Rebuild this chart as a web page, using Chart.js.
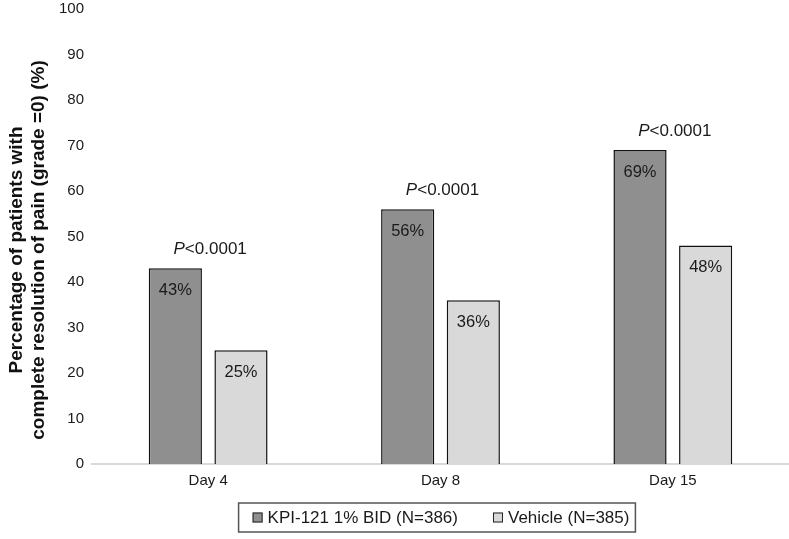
<!DOCTYPE html>
<html>
<head>
<meta charset="utf-8">
<script src="https://cdn.jsdelivr.net/npm/chart.js@4"></script>
<style>
  html, body { margin: 0; padding: 0; background: #fff; }
  #wrap { width: 789px; height: 539px; }
</style>
</head>
<body>
<div id="wrap"><canvas id="myBarChart" width="789" height="539"></canvas></div>
<script>
// データ
const days = ['Day 4', 'Day 8', 'Day 15'];
const kpiValues = [43, 56, 69];
const vehicleValues = [25, 36, 48];
const pLabels = ['P<0.0001', 'P<0.0001', 'P<0.0001'];
const seriesNames = ['KPI-121 1% BID (N=386)', 'Vehicle (N=385)'];
const seriesColors = ['#8f8f8f', '#d9d9d9'];
const yTitle = ['Percentage of patients with', 'complete resolution of pain (grade =0) (%)'];

const FONT = '"Liberation Sans", Arial, sans-serif';

// バーの中の % ラベルと P 値、凡例、縦軸タイトルを描く
const labelPlugin = {
  id: 'labels',
  afterDatasetsDraw(chart) {
    const ctx = chart.ctx;
    ctx.save();
    ctx.fillStyle = '#1a1a1a';
    ctx.textAlign = 'center';
    ctx.textBaseline = 'middle';
    ctx.font = '16.5px ' + FONT;
    chart.data.datasets.forEach(function (ds, i) {
      chart.getDatasetMeta(i).data.forEach(function (bar, j) {
        ctx.fillText(ds.data[j] + '%', bar.x, bar.y + 22);
      });
    });
    // P 値
    const meta0 = chart.getDatasetMeta(0).data;
    const meta1 = chart.getDatasetMeta(1).data;
    pLabels.forEach(function (p, j) {
      const cx = (meta0[j].x + meta1[j].x) / 2 + 2;
      const y = meta0[j].y - 19;
      const rest = p.slice(1);
      ctx.font = 'italic 17px ' + FONT;
      const w1 = ctx.measureText('P').width;
      ctx.font = '17px ' + FONT;
      const w2 = ctx.measureText(rest).width;
      const x0 = cx - (w1 + w2) / 2;
      ctx.textAlign = 'left';
      ctx.font = 'italic 17px ' + FONT;
      ctx.fillText('P', x0, y);
      ctx.font = '17px ' + FONT;
      ctx.fillText(rest, x0 + w1, y);
      ctx.textAlign = 'center';
    });
    ctx.restore();
  },
  afterDraw(chart) {
    const ctx = chart.ctx;
    const area = chart.chartArea;
    ctx.save();

    // 縦軸タイトル
    ctx.fillStyle = '#111';
    ctx.font = 'bold 19px ' + FONT;
    ctx.textAlign = 'center';
    ctx.textBaseline = 'middle';
    ctx.translate(0, 250);
    ctx.rotate(-Math.PI / 2);
    ctx.fillText(yTitle[0], 0, 17);
    ctx.fillText(yTitle[1], 0, 39);
    ctx.setTransform(1, 0, 0, 1, 0, 0);

    // 凡例（枠つき）
    ctx.font = '17px ' + FONT;
    ctx.textBaseline = 'middle';
    ctx.textAlign = 'left';
    const box = 10, gapBox = 5, gapItem = 35, padL = 14, padR = 6;
    let total = padL + padR;
    seriesNames.forEach(function (n, i) {
      total += box + gapBox + ctx.measureText(n).width;
      if (i > 0) total += gapItem;
    });
    const cx = (area.left + area.right) / 2 - 3.5;
    const top = 503, h = 29;
    let x = cx - total / 2;
    ctx.strokeStyle = '#555';
    ctx.lineWidth = 1.5;
    ctx.strokeRect(x, top, total, h);
    x += padL;
    const cy = top + h / 2;
    seriesNames.forEach(function (n, i) {
      if (i > 0) x += gapItem;
      ctx.fillStyle = seriesColors[i];
      ctx.fillRect(x, cy - box / 2, box, box);
      ctx.strokeStyle = '#222';
      ctx.lineWidth = 1;
      ctx.strokeRect(x + 0.5, cy - box / 2 + 0.5, box - 1, box - 1);
      x += box + gapBox;
      ctx.fillStyle = '#1a1a1a';
      ctx.fillText(n, x, cy + 1);
      x += ctx.measureText(n).width;
    });
    ctx.restore();
  }
};

const ctx = document.getElementById('myBarChart').getContext('2d');
const myBarChart = new Chart(ctx, {
  type: 'bar',
  data: {
    labels: days,
    datasets: [{
      label: seriesNames[0],
      data: kpiValues,
      backgroundColor: seriesColors[0],
      borderColor: '#111',
      borderWidth: 1.5,
      borderSkipped: 'bottom'
    }, {
      label: seriesNames[1],
      data: vehicleValues,
      backgroundColor: seriesColors[1],
      borderColor: '#111',
      borderWidth: 1.5,
      borderSkipped: 'bottom'
    }]
  },
  options: {
    responsive: false,
    animation: false,
    layout: { padding: { top: 0, right: 0, left: 52, bottom: 45 } },
    datasets: { bar: { categoryPercentage: 0.565, barPercentage: 0.81 } },
    plugins: {
      tooltip: { enabled: false },
      legend: { display: false }
    },
    scales: {
      x: {
        grid: { display: false },
        border: { display: true, color: '#d9d9d9', width: 2 },
        ticks: { color: '#1a1a1a', font: { family: FONT, size: 15 }, padding: 0 },
        afterFit(scale) { scale.height = 30; }
      },
      y: {
        min: 0,
        max: 100,
        grid: { display: false },
        border: { display: false },
        ticks: { stepSize: 10, color: '#1a1a1a', font: { family: FONT, size: 15 }, padding: 0 },
        afterFit(scale) { scale.width = 40; }
      }
    }
  },
  plugins: [labelPlugin]
});
</script>
</body>
</html>
